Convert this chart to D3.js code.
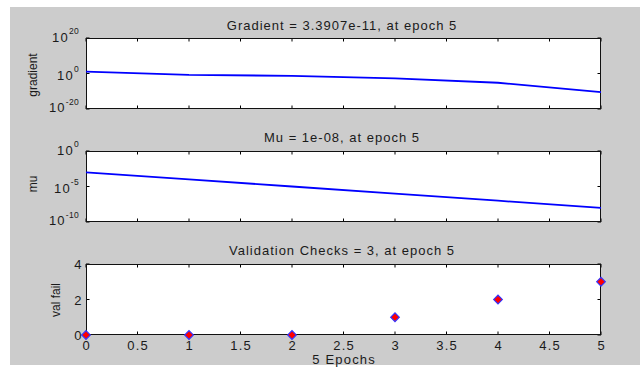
<!DOCTYPE html>
<html><head><meta charset="utf-8">
<script src="https://cdn.jsdelivr.net/npm/d3@7"></script>
<style>
html,body{margin:0;padding:0;background:#fff;}
svg{display:block;}
text{font-family:"Liberation Sans",Arial,sans-serif;fill:#1a1a1a;}
</style></head>
<body>
<svg id="c" width="640" height="369"></svg>
<script>
const epochs = [0, 1, 2, 3, 4, 5];
const gradient = [1.0e1, 1.5e-1, 5.0e-2, 2.0e-3, 6.3e-6, 3.3907e-11];
const mu = [1e-3, 1e-4, 1e-5, 1e-6, 1e-7, 1e-8];
const valFail = [0, 0, 0, 1, 2, 3];
const xTicks = [0, 0.5, 1, 1.5, 2, 2.5, 3, 3.5, 4, 4.5, 5];
const xTickLabels = ["0", "0.5", "1", "1.5", "2", "2.5", "3", "3.5", "4", "4.5", "5"];
const gradTicks = [-20, 0, 20];
const muTicks = [-10, -5, 0];
const valTicks = [0, 2, 4];
const titles = ["Gradient = 3.3907e-11, at epoch 5", "Mu = 1e-08, at epoch 5", "Validation Checks = 3, at epoch 5"];
const yLabels = ["gradient", "mu", "val fail"];
const xLabel = "5 Epochs";

const svg = d3.select("#c");
svg.append("rect").attr("x", 10).attr("y", 7).attr("width", 630).attr("height", 358).attr("fill", "#cccccc");

const L = 86, R = 601;
const tops = [38, 151, 264];
const H = 71;
const FS = 13, LS = 1;
const x = d3.scaleLinear().domain([0, 5]).range([L, R]);

function frame(g, top, ys, yTickVals) {
  const bottom = top + H;
  g.append("rect").attr("x", L).attr("y", top).attr("width", R - L).attr("height", H).attr("fill", "#fff");
  const tl = 3.5;
  xTicks.forEach(t => {
    g.append("line").attr("x1", x(t)).attr("x2", x(t)).attr("y1", bottom).attr("y2", bottom - tl).attr("stroke", "#000");
    g.append("line").attr("x1", x(t)).attr("x2", x(t)).attr("y1", top).attr("y2", top + tl).attr("stroke", "#000");
  });
  yTickVals.forEach(t => {
    g.append("line").attr("x1", L).attr("x2", L + tl).attr("y1", ys(t)).attr("y2", ys(t)).attr("stroke", "#000");
    g.append("line").attr("x1", R).attr("x2", R - tl).attr("y1", ys(t)).attr("y2", ys(t)).attr("stroke", "#000");
  });
  g.append("rect").attr("x", L + 0.5).attr("y", top + 0.5).attr("width", R - L - 1).attr("height", H - 1)
    .attr("fill", "none").attr("stroke", "#111").attr("stroke-width", 1);
}

function htext(txt, xx, yy, anchor, size, ls) {
  const shift = anchor === "middle" ? ls / 2 : (anchor === "end" ? ls : 0);
  return svg.append("text").attr("x", xx + shift).attr("y", yy).attr("text-anchor", anchor)
    .attr("font-size", size).attr("letter-spacing", ls).text(txt);
}
function title(txt, baseline) { htext(txt, (L + R) / 2 - 2, baseline, "middle", FS, LS); }
function ylab(txt, cx, cy) {
  svg.append("text").attr("transform", `translate(${cx},${cy}) rotate(-90)`).attr("text-anchor", "middle")
    .attr("font-size", 12).text(txt);
}
function logLabel(exp, yy, off) {
  const t = svg.append("text").attr("x", 79).attr("y", yy + off).attr("text-anchor", "end").attr("font-size", FS)
    .attr("letter-spacing", 1.2);
  t.append("tspan").text("10");
  t.append("tspan").attr("dy", -7.5).attr("font-size", 8.5).attr("letter-spacing", 0.3).text(String(exp));
}
const logOffsets = [3, 6, 3.5];

// Panel 1: gradient
{
  const top = tops[0];
  const y = d3.scaleLog().domain([1e-20, 1e20]).range([top + H, top]);
  const g = svg.append("g");
  frame(g, top, y, gradTicks.map(e => Math.pow(10, e)));
  g.append("path").datum(epochs.map((e, i) => [e, gradient[i]]))
    .attr("d", d3.line().x(d => x(d[0])).y(d => y(d[1])))
    .attr("fill", "none").attr("stroke", "#0000ff").attr("stroke-width", 1.8);
  gradTicks.forEach((e, i) => logLabel(e, y(Math.pow(10, e)), logOffsets[i]));
  title(titles[0], 29.5);
  ylab(yLabels[0], 37, 75);
}
// Panel 2: mu
{
  const top = tops[1];
  const y = d3.scaleLog().domain([1e-10, 1e0]).range([top + H, top]);
  const g = svg.append("g");
  frame(g, top, y, muTicks.map(e => Math.pow(10, e)));
  g.append("path").datum(epochs.map((e, i) => [e, mu[i]]))
    .attr("d", d3.line().x(d => x(d[0])).y(d => y(d[1])))
    .attr("fill", "none").attr("stroke", "#0000ff").attr("stroke-width", 1.8);
  muTicks.forEach((e, i) => logLabel(e, y(Math.pow(10, e)), logOffsets[i]));
  title(titles[1], 141.7);
  ylab(yLabels[1], 37, 184);
}
// Panel 3: validation
{
  const top = tops[2];
  const y = d3.scaleLinear().domain([0, 4]).range([top + H, top]);
  const g = svg.append("g");
  frame(g, top, y, valTicks);
  const sym = d3.symbol().type(d3.symbolSquare).size(38);
  g.selectAll("path.m").data(epochs.map((e, i) => [e, valFail[i]])).enter().append("path")
    .attr("transform", d => `translate(${x(d[0])},${y(d[1])}) rotate(45)`)
    .attr("d", sym).attr("fill", "#ff0000").attr("stroke", "#3333ff").attr("stroke-width", 1.1);
  valTicks.forEach(t => {
    htext(String(t), 81.5, y(t) + 5, "end", FS, 0);
  });
  xTicks.forEach((t, i) => {
    htext(xTickLabels[i], x(t), top + H + 15, "middle", FS, 1.3);
  });
  htext(xLabel, (L + R) / 2, 364, "middle", FS, 1.2);
  title(titles[2], 255);
  ylab(yLabels[2], 60, 300);
}
</script>
</body></html>
